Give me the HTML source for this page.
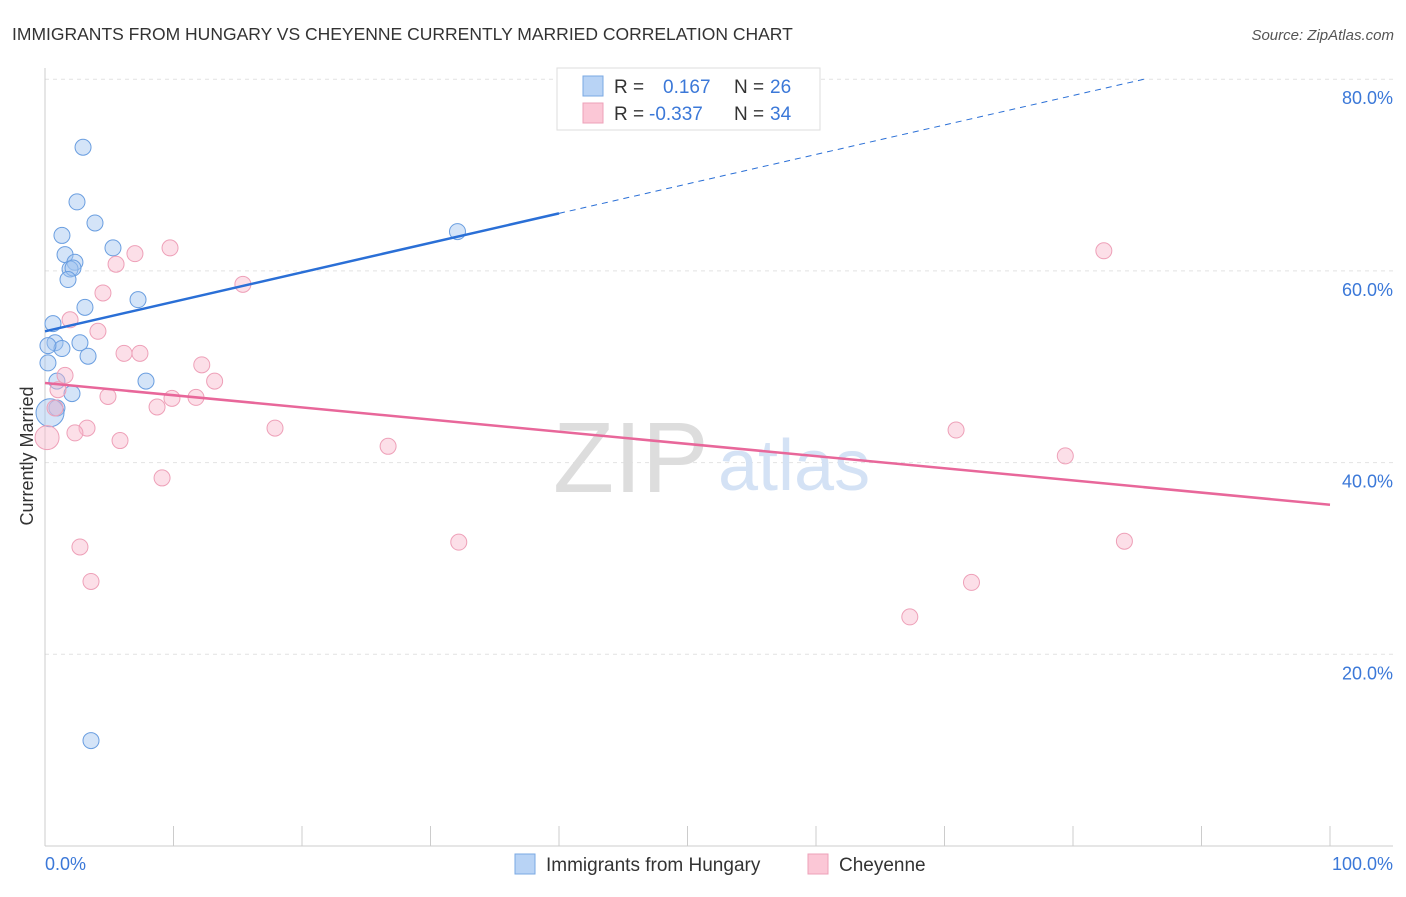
<!DOCTYPE html>
<html><head><meta charset="utf-8"><style>
body{margin:0;background:#fff;font-family:"Liberation Sans",sans-serif}
svg text{font-family:"Liberation Sans",sans-serif}
</style></head><body>
<svg width="1406" height="892" viewBox="0 0 1406 892">
<text x="12" y="40" font-size="17.5" fill="#333">IMMIGRANTS FROM HUNGARY VS CHEYENNE CURRENTLY MARRIED CORRELATION CHART</text>
<text x="1394" y="40" font-size="15" fill="#555" font-style="italic" text-anchor="end">Source: ZipAtlas.com</text>
<g id="grid"></g>
<text x="553" y="492" font-size="100" fill="#ddd" font-family="Liberation Serif">ZIP</text>
<text x="718" y="490" font-size="72" fill="#d4e2f5">atlas</text>
<line x1="45" y1="68" x2="45" y2="846" stroke="#ccc"/>
<line x1="45" y1="846" x2="1393" y2="846" stroke="#ccc"/>
<g id="ticks"></g>
<text x="33" y="456" font-size="18" fill="#333" text-anchor="middle" transform="rotate(-90 33 456)">Currently Married</text>
<text x="45" y="870" font-size="18" fill="#3b78d8">0.0%</text>
<text x="1393" y="870" font-size="18" fill="#3b78d8" text-anchor="end">100.0%</text>
<g id="points"></g>
<g id="trends"></g>
<g>
<rect x="557" y="68" width="263" height="62" fill="#fff" stroke="#ddd"/>
<rect x="583" y="76" width="20" height="20" fill="#b8d3f5" stroke="#7aa8e3"/>
<text x="614" y="93" font-size="19" fill="#333">R = </text><text x="663" y="93" font-size="19" fill="#3b78d8">0.167</text>
<text x="734" y="93" font-size="19" fill="#333">N = </text><text x="770" y="93" font-size="19" fill="#3b78d8">26</text>
<rect x="583" y="103" width="20" height="20" fill="#fbc7d6" stroke="#eea0b8"/>
<text x="614" y="120" font-size="19" fill="#333">R = </text><text x="649" y="120" font-size="19" fill="#3b78d8">-0.337</text>
<text x="734" y="120" font-size="19" fill="#333">N = </text><text x="770" y="120" font-size="19" fill="#3b78d8">34</text>
</g>
<g>
<rect x="515" y="854" width="20" height="20" fill="#b8d3f5" stroke="#7aa8e3"/>
<text x="546" y="871" font-size="19" fill="#333">Immigrants from Hungary</text>
<rect x="808" y="854" width="20" height="20" fill="#fbc7d6" stroke="#eea0b8"/>
<text x="839" y="871" font-size="19" fill="#333">Cheyenne</text>
</g>
</svg>
<script>
const yTicks=[20,40,60,80];
const xTickCount=10;
const blueX=[2.96,2.49,3.89,1.32,5.29,1.56,2.33,1.95,2.18,1.79,7.24,3.11,0.62,0.78,2.72,1.32,3.35,0.23,7.86,0.93,2.10,0.93,0.39,32.1,3.58,0.23];
const blueY=[72.9,67.2,65.0,63.7,62.4,61.7,60.9,60.2,60.3,59.1,57.0,56.2,54.5,52.5,52.5,51.9,51.1,50.4,48.5,48.5,47.2,45.7,45.2,64.1,11.0,52.2];
const blueR=[8,8,8,8,8,8,8,8,8,8,8,8,8,8,8,8,8,8,8,8,8,8,14,8,8,8];
const pinkX=[9.73,7.0,5.53,15.4,4.51,1.95,4.12,6.15,7.39,12.2,1.56,13.2,1.01,4.90,9.88,11.75,8.72,3.27,2.33,17.9,5.84,26.7,0.16,9.11,2.72,32.2,3.58,82.4,70.9,79.4,84.0,72.1,67.3,0.78];
const pinkY=[62.4,61.8,60.7,58.6,57.7,54.9,53.7,51.4,51.4,50.2,49.1,48.5,47.6,46.9,46.7,46.8,45.8,43.6,43.1,43.6,42.3,41.7,42.6,38.4,31.2,31.7,27.6,62.1,43.4,40.7,31.8,27.5,23.9,45.7];
const pinkR=[8,8,8,8,8,8,8,8,8,8,8,8,8,8,8,8,8,8,8,8,8,8,12,8,8,8,8,8,8,8,8,8,8,8];
const blueTrend=[53.7,0.3075];
const pinkTrend=[48.3,-0.127];
const NS='http://www.w3.org/2000/svg';
const X=v=>45+v*12.85, Y=v=>846-v*9.585;
function mk(tag,attrs,parent){const e=document.createElementNS(NS,tag);for(const k in attrs)e.setAttribute(k,attrs[k]);document.getElementById(parent).appendChild(e);return e;}
yTicks.forEach(t=>{
 const l=mk('line',{x1:45,x2:1393,y1:Y(t),y2:Y(t),stroke:'#e2e2e2','stroke-dasharray':'4,4'},'grid');
 
 
 const tx=mk('text',{x:1393,y:Y(t)+25,'font-size':18,fill:'#3b78d8','text-anchor':'end'},'grid');
 tx.textContent=t.toFixed(1)+'%';
 
 
});
for(let i=1;i<=xTickCount;i++){
 const l=mk('line',{x1:X(i*10),x2:X(i*10),y1:826,y2:846,stroke:'#ccc'},'ticks');
 
 
}
blueX.forEach((x,i)=>{
 const c=mk('circle',{cx:X(x),cy:Y(blueY[i]),r:blueR[i],fill:'rgba(160,195,240,0.45)',stroke:'#6a9ee0','stroke-width':1},'points');
 
 
});
pinkX.forEach((x,i)=>{
 const c=mk('circle',{cx:X(x),cy:Y(pinkY[i]),r:pinkR[i],fill:'rgba(248,185,205,0.45)',stroke:'#eea0b8','stroke-width':1},'points');
 
 
});
const b1=mk('line',{x1:X(0),y1:Y(blueTrend[0]),x2:X(40),y2:Y(blueTrend[0]+40*blueTrend[1]),stroke:'#2a6fd6','stroke-width':2.5},'trends');


const xe=(80-blueTrend[0])/blueTrend[1];
const b2=mk('line',{x1:X(40),y1:Y(blueTrend[0]+40*blueTrend[1]),x2:X(xe),y2:Y(80),stroke:'#2a6fd6','stroke-width':1,'stroke-dasharray':'6,5'},'trends');


const p1=mk('line',{x1:X(0),y1:Y(pinkTrend[0]),x2:X(100),y2:Y(pinkTrend[0]+100*pinkTrend[1]),stroke:'#e8679a','stroke-width':2.5},'trends');


</script>
</body></html>
